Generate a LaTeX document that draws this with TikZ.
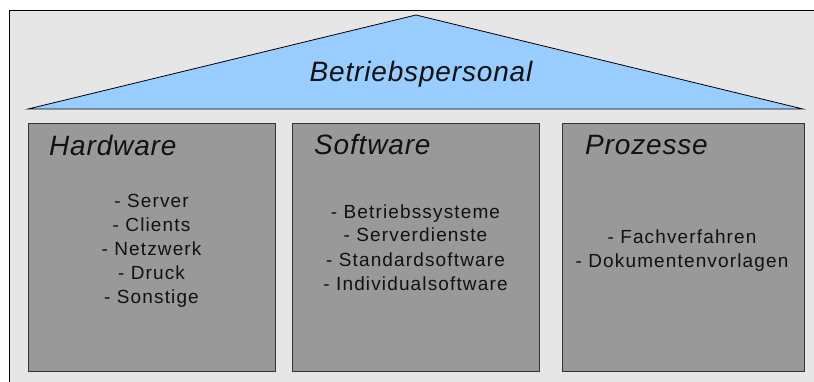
\documentclass[tikz,border=0pt]{standalone}
\usepackage{fontspec}
\setmainfont{Liberation Sans}
\newfontfamily\labelfont[LetterSpace=6]{Liberation Sans}
\newfontfamily\headfont[LetterSpace=3]{Liberation Sans}
\definecolor{wallgray}{HTML}{E6E6E6}
\definecolor{pillargray}{HTML}{999999}
\definecolor{roofblue}{HTML}{99CCFF}
\definecolor{edgegray}{HTML}{333333}
\definecolor{inkblack}{HTML}{111111}

\begin{document}
\begin{tikzpicture}[x=1pt,y=-1pt,
  pillar/.style={draw=edgegray, fill=pillargray, line width=1pt, inner sep=0,
                 minimum height=247pt},
  heading/.style={anchor=base west, inner sep=0, text=inkblack,
                  font=\headfont\itshape\fontsize{28}{30}\selectfont},
  itemlist/.style={anchor=base, inner sep=0, align=center, text=inkblack,
                   font=\labelfont\fontsize{19}{24}\selectfont}]
\useasboundingbox (0,0) rectangle (814,382);
\fill[white] (0,0) rectangle (814,382);
% outer frame
\draw[fill=wallgray, line width=1pt] (9,11) rectangle (822,392);
% roof
\draw[fill=roofblue, draw=black, line width=0.8pt, line join=miter]
  (28,109) -- (416,15) -- (803,109) -- cycle;
\node[heading, anchor=base] (roof) at (421,82) {Betriebspersonal};
% pillars
\node[pillar, minimum width=247pt] (hw) at (151.5,247.5) {};
\node[pillar, minimum width=247pt] (sw) at (415.5,247.5) {};
\node[pillar, minimum width=242pt] (pz) at (683,247.5) {};
% headings
\node[heading] (hwtitle) at (49,156) {Hardware};
\node[heading] (swtitle) at (314,155) {Software};
\node[heading] (pztitle) at (585,155) {Prozesse};
% item lists (the base anchor sits on the last line)
\node[itemlist] (hwitems) at (151.5,303) {- Server\\- Clients\\- Netzwerk\\- Druck\\- Sonstige};
\node[itemlist] (switems) at (415.5,290) {- Betriebssysteme\\- Serverdienste\\- Standardsoftware\\- Individualsoftware};
\node[itemlist] (pzitems) at (682,267) {- Fachverfahren\\- Dokumentenvorlagen};
\end{tikzpicture}
\end{document}
